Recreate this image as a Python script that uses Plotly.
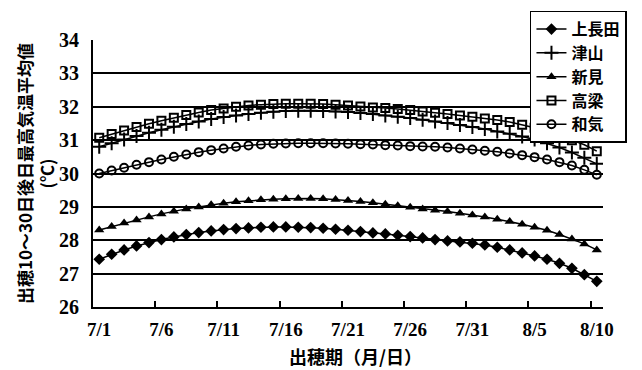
import plotly.graph_objects as go

# Heading dates 7/1 .. 8/10 (one category per day)
dates = [f"7/{d}" for d in range(1, 32)] + [f"8/{d}" for d in range(1, 11)]
tick_labels = ["7/1", "7/6", "7/11", "7/16", "7/21", "7/26", "7/31", "8/5", "8/10"]
y_ticks = [26, 27, 28, 29, 30, 31, 32, 33, 34]

# Mean daily maximum temperature 10-30 days after heading (°C)
kaminagata = [
    27.43, 27.58, 27.71, 27.83, 27.93, 28.02, 28.10, 28.17, 28.23, 28.28,
    28.32, 28.35, 28.37, 28.39, 28.40, 28.40, 28.39, 28.38, 28.36, 28.33,
    28.30, 28.26, 28.22, 28.19, 28.15, 28.11, 28.07, 28.02, 27.98, 27.95,
    27.91, 27.86, 27.79, 27.71, 27.62, 27.53, 27.43, 27.31, 27.16, 26.97,
    26.77,
]
tsuyama = [
    30.80, 30.91, 31.02, 31.12, 31.22, 31.31, 31.40, 31.48, 31.56, 31.63,
    31.69, 31.74, 31.78, 31.82, 31.85, 31.87, 31.88, 31.88, 31.87, 31.86,
    31.84, 31.81, 31.78, 31.74, 31.70, 31.66, 31.61, 31.56, 31.51, 31.45,
    31.39, 31.33, 31.26, 31.19, 31.11, 31.02, 30.91, 30.78, 30.63, 30.47,
    30.29,
]
niimi = [
    28.31, 28.41, 28.52, 28.61, 28.70, 28.79, 28.87, 28.94, 29.00, 29.06,
    29.11, 29.15, 29.18, 29.21, 29.23, 29.24, 29.25, 29.25, 29.24, 29.22,
    29.19, 29.16, 29.12, 29.08, 29.03, 28.99, 28.94, 28.90, 28.86, 28.81,
    28.76, 28.70, 28.63, 28.56, 28.48, 28.39, 28.30, 28.17, 28.04, 27.89,
    27.71,
]
takahashi = [
    31.07, 31.18, 31.29, 31.39, 31.49, 31.58, 31.67, 31.75, 31.83, 31.90,
    31.95, 32.00, 32.04, 32.06, 32.08, 32.09, 32.09, 32.09, 32.08, 32.06,
    32.04, 32.01, 31.98, 31.96, 31.93, 31.90, 31.86, 31.82, 31.78, 31.74,
    31.70, 31.65, 31.60, 31.54, 31.46, 31.37, 31.26, 31.14, 31.00, 30.86,
    30.67,
]
wake = [
    30.00, 30.09, 30.17, 30.26, 30.34, 30.42, 30.50, 30.57, 30.64, 30.70,
    30.75, 30.80, 30.84, 30.87, 30.89, 30.90, 30.91, 30.91, 30.91, 30.90,
    30.89, 30.88, 30.87, 30.85, 30.84, 30.82, 30.81, 30.80, 30.78, 30.75,
    30.72, 30.68, 30.65, 30.60, 30.55, 30.49, 30.42, 30.34, 30.24, 30.11,
    29.96,
]

JP = "Noto Sans CJK JP"
SERIF = "Liberation Serif"

series = [
    ("上長田", kaminagata, dict(symbol="diamond", size=9, color="black")),
    ("津山", tsuyama, dict(symbol="cross-thin", size=10, color="black",
                          line=dict(color="black", width=2))),
    ("新見", niimi, dict(symbol="triangle-up", size=9, color="black")),
    ("高梁", takahashi, dict(symbol="square-open", size=8, color="black",
                            line=dict(color="black", width=2))),
    ("和気", wake, dict(symbol="circle-open", size=8, color="black",
                        line=dict(color="black", width=2))),
]

fig = go.Figure()
for name, values, marker in series:
    fig.add_trace(go.Scatter(
        x=dates, y=values, name=name, mode="lines+markers",
        line=dict(color="black", width=1.5),
        marker=marker,
    ))

fig.update_layout(
    width=642, height=370,
    margin=dict(l=93, r=39, t=40, b=63, autoexpand=False),
    paper_bgcolor="white", plot_bgcolor="white",
    showlegend=True,
    legend=dict(
        x=1.047, y=1.11, xanchor="right", yanchor="top",
        bgcolor="white", bordercolor="black", borderwidth=1.5,
        font=dict(family=JP, size=16, color="black", weight="bold"),
        itemwidth=30, tracegroupgap=0,
    ),
    xaxis=dict(
        type="category", categoryorder="array", categoryarray=dates,
        range=[-0.5, 40.5],
        tickmode="array", tickvals=tick_labels, ticktext=tick_labels,
        tickangle=0,
        tickson="boundaries", ticks="inside", ticklen=6, tickwidth=1.5,
        tickcolor="black",
        showline=True, linecolor="black", linewidth=2,
        showgrid=False, zeroline=False,
        tickfont=dict(family=SERIF, size=19, color="black", weight="bold"),
        ticklabelstandoff=4,
    ),
    yaxis=dict(
        range=[26, 34], tickmode="array", tickvals=y_ticks,
        showline=True, linecolor="black", linewidth=2,
        showgrid=True, gridcolor="black", gridwidth=1.5,
        zeroline=False, ticks="",
        tickfont=dict(family=SERIF, size=20, color="black", weight="bold"),
        ticklabelstandoff=8,
        title=dict(
            text="出穂10～30日後日最高気温平均値<br>(℃)",
            font=dict(family=JP, size=17, color="black", weight="bold"),
            standoff=0,
        ),
    ),
    annotations=[
        dict(text="出穂期（月/日）",
             xref="paper", yref="paper", x=0.514, y=-0.1835,
             xanchor="center", yanchor="middle", showarrow=False,
             font=dict(family=JP, size=18, color="black", weight="bold")),
    ],
)

fig.write_html("out.html")
